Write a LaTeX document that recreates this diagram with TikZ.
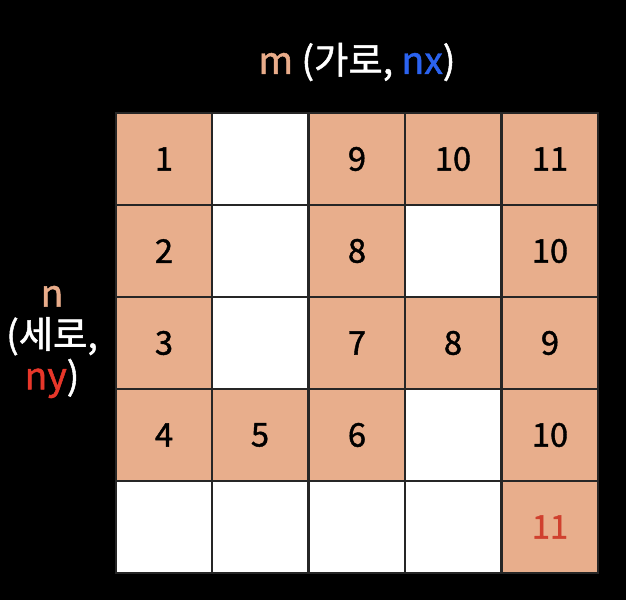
\documentclass[tikz,border=0pt]{standalone}
\usepackage{fontspec}
\setmainfont{Noto Sans CJK KR}[RawFeature={embolden=1.3}]
\definecolor{cellfill}{HTML}{E8AE8C}
\definecolor{mpeach}{HTML}{E9AC8A}
\definecolor{nxblue}{HTML}{2B63F0}
\definecolor{nyred}{HTML}{E8372A}
\definecolor{endred}{HTML}{D0402E}

\begin{document}
\begin{tikzpicture}[x=0.75pt, y=-0.75pt,
    every node/.style={font=\fontsize{24.5}{30}\selectfont},
    title/.style={white, font=\fontsize{28}{31}\selectfont},
    cell/.style={draw=black!85, line width=1.2pt, minimum width=72.3pt, minimum height=69pt, inner sep=0pt},
    path/.style={cell, fill=cellfill},
    empty/.style={cell, fill=white}]
    \fill[black] (0,0) rectangle (626,600);
    \useasboundingbox (0,0) rectangle (626,600);

    % titles
    \node[title] (top) at (357,62) {{\color{mpeach}m} (가로, {\color{nxblue}nx})};
    \node[title, align=center] (left) at (52,342) {{\color{mpeach}n}\\(세로,\\{\color{nyred}ny})};

    % row 1
    \node[path]  (c11) at (164,159) {1};
    \node[empty] (c12) at (260,159) {};
    \node[path]  (c13) at (357,159) {9};
    \node[path]  (c14) at (453,159) {10};
    \node[path]  (c15) at (550,159) {11};
    % row 2
    \node[path]  (c21) at (164,251) {2};
    \node[empty] (c22) at (260,251) {};
    \node[path]  (c23) at (357,251) {8};
    \node[empty] (c24) at (453,251) {};
    \node[path]  (c25) at (550,251) {10};
    % row 3
    \node[path]  (c31) at (164,343) {3};
    \node[empty] (c32) at (260,343) {};
    \node[path]  (c33) at (357,343) {7};
    \node[path]  (c34) at (453,343) {8};
    \node[path]  (c35) at (550,343) {9};
    % row 4
    \node[path]  (c41) at (164,435) {4};
    \node[path]  (c42) at (260,435) {5};
    \node[path]  (c43) at (357,435) {6};
    \node[empty] (c44) at (453,435) {};
    \node[path]  (c45) at (550,435) {10};
    % row 5
    \node[empty] (c51) at (164,527) {};
    \node[empty] (c52) at (260,527) {};
    \node[empty] (c53) at (357,527) {};
    \node[empty] (c54) at (453,527) {};
    \node[path, text=endred] (c55) at (550,527) {11};
\end{tikzpicture}
\end{document}
